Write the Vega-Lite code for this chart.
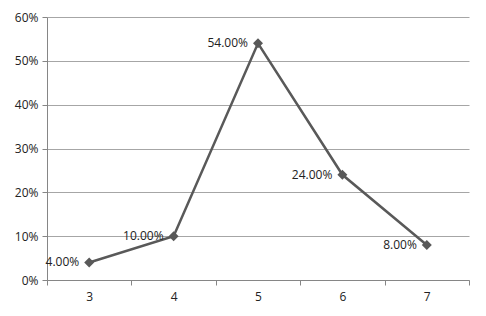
{
  "$schema": "https://vega.github.io/schema/vega-lite/v6.json",
  "width": 422,
  "height": 263,
  "autosize": {"type": "none"},
  "padding": {"left": 47, "top": 17, "right": 17, "bottom": 36},
  "background": "white",
  "config": {
    "view": {"stroke": null},
    "font": "Open Sans"
  },
  "data": {
    "values": [
      {"x": "3", "p": 0.04},
      {"x": "4", "p": 0.10},
      {"x": "5", "p": 0.54},
      {"x": "6", "p": 0.24},
      {"x": "7", "p": 0.08}
    ]
  },
  "encoding": {
    "x": {
      "field": "x", "type": "ordinal", "sort": null, "title": null,
      "scale": {"paddingInner": 0, "paddingOuter": 0},
      "axis": {"labelAngle": 0, "tickBand": "extent", "domainColor": "#868686", "tickColor": "#868686", "tickSize": 5, "labelPadding": 6, "labelFontSize": 12, "labelColor": "#222222", "grid": false, "labelFont": "Open Sans"}
    },
    "y": {
      "field": "p", "type": "quantitative", "title": null,
      "scale": {"domain": [0, 0.6], "nice": false},
      "axis": {"format": ".0%", "values": [0, 0.1, 0.2, 0.3, 0.4, 0.5, 0.6], "grid": true, "gridColor": "#a6a6a6", "domainColor": "#868686", "tickColor": "#868686", "tickSize": 5, "labelPadding": 4, "labelFontSize": 12, "labelColor": "#222222", "labelFont": "Open Sans"}
    }
  },
  "layer": [
    {"mark": {"type": "line", "color": "#595959", "strokeWidth": 2.5}},
    {"mark": {"type": "point", "shape": "diamond", "filled": true, "color": "#595959", "size": 100, "opacity": 1}},
    {"mark": {"type": "text", "align": "right", "baseline": "middle", "dx": -10, "fontSize": 12, "color": "#222222"},
     "encoding": {"text": {"field": "p", "type": "quantitative", "format": ".2%"}}}
  ]
}
